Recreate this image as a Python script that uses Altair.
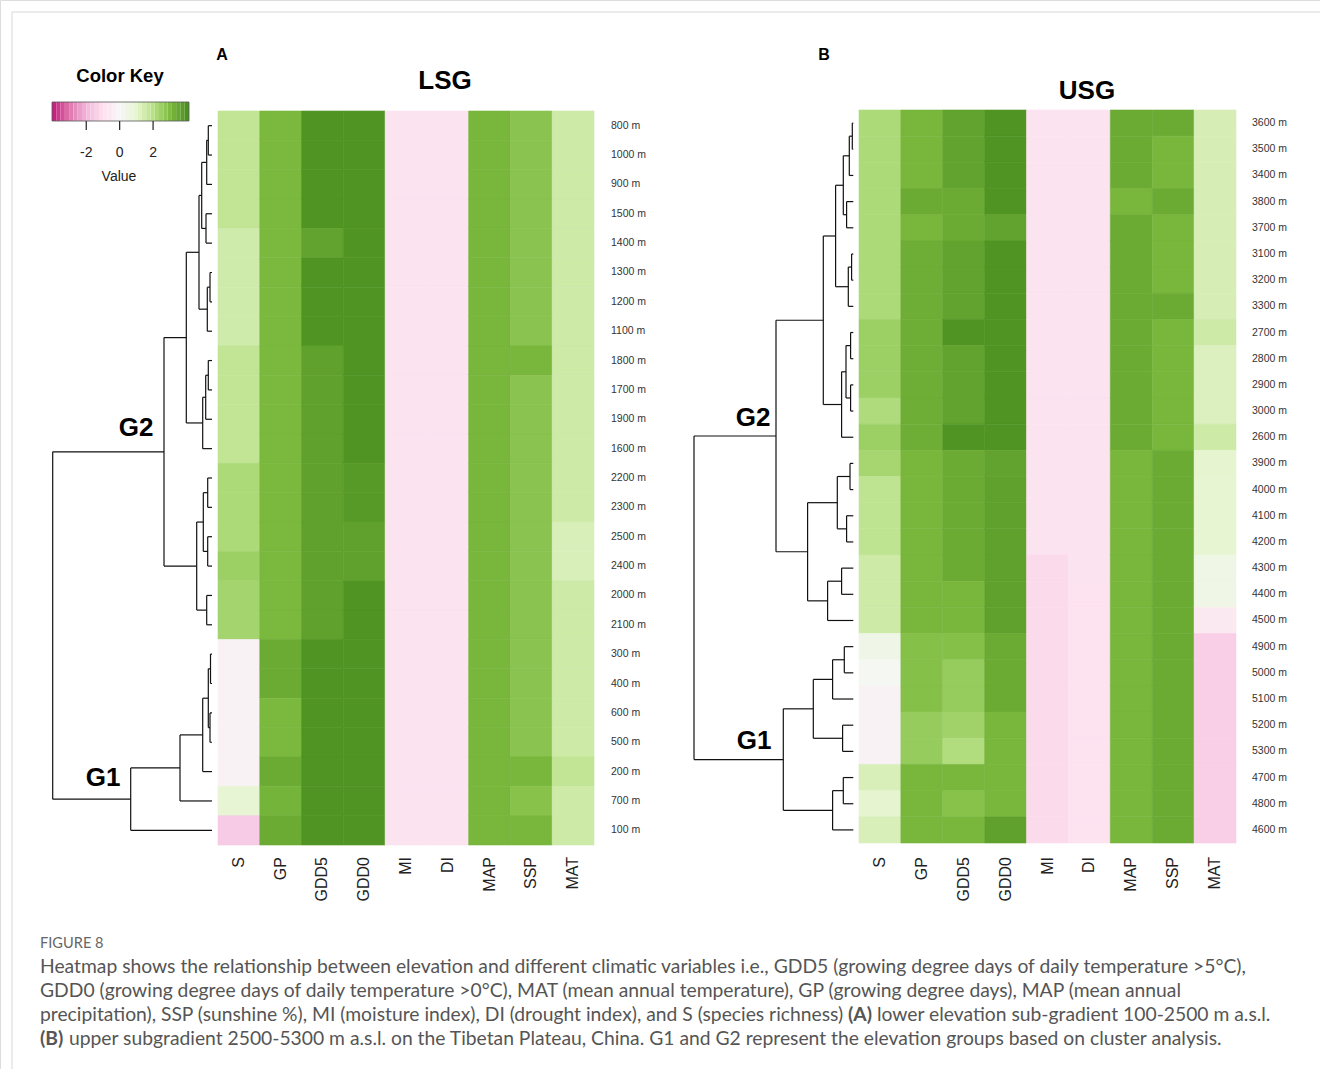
import altair as alt
import pandas as pd

# ---------------- data ----------------
VARS = ["S", "GP", "GDD5", "GDD0", "MI", "DI", "MAP", "SSP", "MAT"]

ROWS_A = ["800 m", "1000 m", "900 m", "1500 m", "1400 m", "1300 m", "1200 m", "1100 m",
          "1800 m", "1700 m", "1900 m", "1600 m", "2200 m", "2300 m", "2500 m", "2400 m",
          "2000 m", "2100 m", "300 m", "400 m", "600 m", "500 m", "200 m", "700 m", "100 m"]

S_A    = [1.8, 1.8, 1.8, 1.8, 1.5, 1.5, 1.5, 1.5, 1.8, 1.8, 1.8, 1.8, 2.2, 2.2, 2.2, 2.5, 2.35, 2.35, -0.2, -0.2, -0.2, -0.2, -0.2, 0.9, -1.5]
GP_A   = [3.1] * 18 + [3.4, 3.4, 3.1, 3.1, 3.4, 3.2, 3.4]
GDD5_A = [3.95, 3.95, 3.95, 3.95, 3.6, 3.95, 3.95, 3.95, 3.65, 3.65, 3.65, 3.65, 3.65, 3.65, 3.65, 3.65, 3.65, 3.65, 3.95, 3.95, 3.95, 3.95, 3.95, 3.95, 3.95]
GDD0_A = [3.95] * 12 + [3.8, 3.8, 3.65, 3.65] + [3.95] * 9
MI_A   = [-0.85] * 25
DI_A   = [-0.85] * 25
MAP_A  = [3.15] * 25
SSP_A  = [2.8] * 8 + [3.15] + [2.8] * 13 + [3.15, 2.85, 3.15]
MAT_A  = [1.55] * 14 + [1.3, 1.3] + [1.55] * 6 + [1.8, 1.55, 1.55]

ROWS_B = ["3600 m", "3500 m", "3400 m", "3800 m", "3700 m", "3100 m", "3200 m", "3300 m",
          "2700 m", "2800 m", "2900 m", "3000 m", "2600 m", "3900 m", "4000 m", "4100 m",
          "4200 m", "4300 m", "4400 m", "4500 m", "4900 m", "5000 m", "5100 m", "5200 m",
          "5300 m", "4700 m", "4800 m", "4600 m"]

S_B    = [2.2] * 8 + [2.5, 2.5, 2.5, 2.15, 2.5, 2.3, 1.85, 1.85, 1.85, 1.55, 1.55, 1.55, 0.4, 0.1, -0.2, -0.2, -0.2, 1.3, 1.0, 1.3]
GP_B   = [3.15, 3.15, 3.15, 3.4, 3.15] + [3.35] * 8 + [3.15] * 7 + [2.9, 2.9, 2.9, 2.6, 2.6, 3.15, 3.15, 3.15]
GDD5_B = [3.6, 3.6, 3.6, 3.4, 3.4, 3.6, 3.6, 3.6, 3.95, 3.6, 3.6, 3.6, 3.95, 3.4, 3.4, 3.4, 3.4, 3.4, 3.15, 3.15, 2.9, 2.6, 2.6, 2.4, 2.1, 3.15, 2.85, 3.15]
GDD0_B = [3.95, 3.95, 3.95, 3.95, 3.6] + [3.95] * 8 + [3.6] + [3.65] * 6 + [3.4, 3.4, 3.4, 3.15, 3.15, 3.15, 3.15, 3.65]
MI_B   = [-0.85] * 17 + [-1.15] * 11
DI_B   = [-0.85] * 18 + [-0.92] * 10
MAP_B  = [3.4, 3.4, 3.4, 3.15] + [3.4] * 9 + [3.15] * 15
SSP_B  = [3.4, 3.15, 3.15, 3.4, 3.15, 3.15, 3.15, 3.4, 3.15, 3.15, 3.15, 3.15, 3.15] + [3.4] * 15
MAT_B  = [1.35] * 8 + [1.55, 1.25, 1.25, 1.25, 1.55, 1.0, 0.95, 0.95, 0.95, 0.45, 0.45, -0.6] + [-1.4] * 8

# dendrogram merges: (node, left child, right child, merge height)
MERGES_A = [
    ("a1", "800 m", "1000 m", 3.7), ("a2", "a1", "900 m", 5.3),
    ("a3", "1500 m", "1400 m", 6.0), ("a4", "a2", "a3", 10.3),
    ("a5", "1300 m", "1200 m", 2.0), ("a6", "a5", "1100 m", 4.7),
    ("a7", "a4", "a6", 13.0),
    ("a8", "1800 m", "1700 m", 3.7), ("a9", "a8", "1900 m", 6.3), ("a10", "a9", "1600 m", 9.3),
    ("a11", "a7", "a10", 25.7),
    ("a12", "2200 m", "2300 m", 4.3), ("a13", "2500 m", "2400 m", 4.3), ("a14", "a12", "a13", 8.7),
    ("a15", "2000 m", "2100 m", 5.3), ("a16", "a14", "a15", 15.3),
    ("a17", "a11", "a16", 48.0),
    ("a18", "300 m", "400 m", 1.5), ("a19", "600 m", "500 m", 2.0), ("a20", "a18", "a19", 3.7),
    ("a21", "a20", "200 m", 9.3), ("a22", "a21", "700 m", 32.0), ("a23", "a22", "100 m", 81.3),
    ("a24", "a17", "a23", 159.3),
]
MERGES_B = [
    ("b1", "3600 m", "3500 m", 1.0), ("b2", "b1", "3400 m", 4.0),
    ("b3", "3800 m", "3700 m", 6.7), ("b4", "b2", "b3", 10.0),
    ("b5", "3100 m", "3200 m", 1.7), ("b6", "b5", "3300 m", 5.0), ("b7", "b4", "b6", 17.7),
    ("b8", "2700 m", "2800 m", 2.7), ("b9", "2900 m", "3000 m", 2.7), ("b10", "b8", "b9", 7.3),
    ("b11", "b10", "2600 m", 11.7), ("b12", "b7", "b11", 30.0),
    ("b13", "3900 m", "4000 m", 3.3), ("b14", "4100 m", "4200 m", 6.7), ("b15", "b13", "b14", 16.0),
    ("b16", "4300 m", "4400 m", 11.7), ("b17", "b16", "4500 m", 25.7), ("b18", "b15", "b17", 45.7),
    ("b19", "b12", "b18", 77.3),
    ("b20", "4900 m", "5000 m", 9.0), ("b21", "b20", "5100 m", 20.7),
    ("b22", "5200 m", "5300 m", 10.7), ("b23", "b21", "b22", 40.0),
    ("b24", "4700 m", "4800 m", 10.0), ("b25", "b24", "4600 m", 20.7), ("b26", "b23", "b25", 70.0),
    ("b27", "b19", "b26", 159.3),
]

KEY_TICKS = [-2, 0, 2]
KEY_MIN, KEY_MAX = -4.05, 4.15
PIYG = ["#c51b7d", "#de77ae", "#f1b6da", "#fde0ef", "#f7f7f7", "#e6f5d0", "#b8e186", "#7fbc41", "#4d9221"]
PIYG_STOPS = [-4, -3, -2, -1, 0, 1, 2, 3, 4]

CAPTION_LINES = [
    "Heatmap shows the relationship between elevation and different climatic variables i.e., GDD5 (growing degree days of daily temperature >5°C),",
    "GDD0 (growing degree days of daily temperature >0°C), MAT (mean annual temperature), GP (growing degree days), MAP (mean annual",
]
CAP3_A = "precipitation), SSP (sunshine %), MI (moisture index), DI (drought index), and S (species richness)"
CAP3_B = "(A)"
CAP3_C = "lower elevation sub-gradient 100-2500 m a.s.l."
CAP4_A = "(B)"
CAP4_B = "upper subgradient 2500-5300 m a.s.l. on the Tibetan Plateau, China. G1 and G2 represent the elevation groups based on cluster analysis."

# ---------------- helpers ----------------
FONT = "Liberation Sans"
CAPFONT = "Lato"
CAPSIZE = 19.3
COLOR_SCALE = alt.Scale(domain=PIYG_STOPS, range=PIYG, clamp=True, interpolate="rgb")


def long_table(rows, cols):
    recs = []
    for v, vals in zip(VARS, cols):
        for r, val in zip(rows, vals):
            recs.append({"elev": r, "var": v, "value": val})
    return pd.DataFrame(recs)


def dendro_segments(order, merges):
    pos = {lab: i for i, lab in enumerate(order)}
    hgt = {lab: 0.0 for lab in order}
    segs = []
    for nid, a, b, h in merges:
        pos[nid] = (pos[a] + pos[b]) / 2.0
        hgt[nid] = h
        segs.append({"x1": h, "x2": h, "y1": pos[a], "y2": pos[b]})
        for c in (a, b):
            segs.append({"x1": hgt[c], "x2": h, "y1": pos[c], "y2": pos[c]})
    return pd.DataFrame(segs)


def panel(rows, cols, merges, heat_x, heat_y, dendro_x, label_x, collabel_y):
    df = long_table(rows, cols)
    xs = alt.Scale(domain=VARS, range=list(heat_x), paddingInner=0, paddingOuter=0)
    ys = alt.Scale(domain=rows, range=list(heat_y), paddingInner=0, paddingOuter=0)
    heat = alt.Chart(df).mark_rect(strokeWidth=0.6).encode(
        x=alt.X("var:N", scale=xs, axis=None),
        y=alt.Y("elev:N", scale=ys, axis=None),
        color=alt.Color("value:Q", scale=COLOR_SCALE, legend=None),
        stroke=alt.Stroke("value:Q", scale=COLOR_SCALE, legend=None),
    )
    rlab = alt.Chart(pd.DataFrame({"elev": rows})).mark_text(
        align="left", baseline="middle", fontSize=10.5, font=FONT, color="#333"
    ).encode(x=alt.value(label_x), y=alt.Y("elev:N", scale=ys, axis=None), text="elev:N")
    clab = alt.Chart(pd.DataFrame({"var": VARS})).mark_text(
        angle=270, align="right", baseline="middle", fontSize=16, font=FONT, color="#222"
    ).encode(x=alt.X("var:N", scale=xs, axis=None), y=alt.value(collabel_y), text="var:N")
    seg = dendro_segments(rows, merges)
    dend = alt.Chart(seg).mark_rule(color="#111", strokeWidth=1.2).encode(
        x=alt.X("x1:Q", scale=alt.Scale(domain=[0, 160], range=list(dendro_x), zero=False, nice=False), axis=None),
        x2="x2:Q",
        y=alt.Y("y1:Q", scale=alt.Scale(domain=[-0.5, len(rows) - 0.5], range=list(heat_y), zero=False, nice=False), axis=None),
        y2="y2:Q",
    )
    return [heat, rlab, clab, dend]


def label(text, x, y, size, weight="normal", color="#000", align="center", font=FONT):
    return alt.Chart(pd.DataFrame({"t": [text]})).mark_text(
        x=x, y=y, fontSize=size, fontWeight=weight, color=color, align=align,
        baseline="alphabetic", font=font
    ).encode(text="t:N")


layers = []
layers += panel(ROWS_A, [S_A, GP_A, GDD5_A, GDD0_A, MI_A, DI_A, MAP_A, SSP_A, MAT_A], MERGES_A,
                (218, 594), (111, 845), (212, 52), 611, 857)
layers += panel(ROWS_B, [S_B, GP_B, GDD5_B, GDD0_B, MI_B, DI_B, MAP_B, SSP_B, MAT_B], MERGES_B,
                (859, 1236), (110, 843), (853.3, 693.3), 1252, 857)

# colour key
nblk = 32
step = (KEY_MAX - KEY_MIN) / nblk
keydf = pd.DataFrame({
    "lo": [KEY_MIN + i * step for i in range(nblk)],
    "hi": [KEY_MIN + (i + 1) * step for i in range(nblk)],
    "mid": [KEY_MIN + (i + 0.5) * step for i in range(nblk)],
})
kx = alt.Scale(domain=[KEY_MIN, KEY_MAX], range=[52, 189], zero=False, nice=False)
key = alt.Chart(keydf).mark_rect().encode(
    x=alt.X("lo:Q", scale=kx, axis=None), x2="hi:Q",
    y=alt.value(102), y2=alt.value(121),
    color=alt.Color("mid:Q", scale=COLOR_SCALE, legend=None),
)
keyframe = alt.Chart(pd.DataFrame({"a": [KEY_MIN], "b": [KEY_MAX]})).mark_rect(
    fill=None, stroke="#555", strokeWidth=0.8
).encode(x=alt.X("a:Q", scale=kx, axis=None), x2="b:Q", y=alt.value(102), y2=alt.value(121))
kt = pd.DataFrame({"v": KEY_TICKS, "t": [str(v) for v in KEY_TICKS]})
keyticks = alt.Chart(kt).mark_rule(color="#222", strokeWidth=1.2).encode(
    x=alt.X("v:Q", scale=kx, axis=None), y=alt.value(121), y2=alt.value(130))
keylabels = alt.Chart(kt).mark_text(fontSize=14, font=FONT, color="#222", baseline="alphabetic").encode(
    x=alt.X("v:Q", scale=kx, axis=None), y=alt.value(157), text="t:N")
layers += [key, keyframe, keyticks, keylabels]

# annotations
layers += [
    label("Color Key", 120, 82, 18.5, "bold"),
    label("Value", 119, 181, 14, color="#222"),
    label("A", 222, 60, 16, "bold"),
    label("B", 824, 60, 16, "bold"),
    label("LSG", 445, 89, 26, "bold"),
    label("USG", 1087, 99, 26, "bold"),
    label("G2", 136, 436, 26, "bold"),
    label("G1", 103, 786, 26, "bold"),
    label("G2", 753, 426, 26, "bold"),
    label("G1", 754, 749, 26, "bold"),
    label("FIGURE 8", 40, 948, 14.6, color="#666", align="left", font=CAPFONT),
]
cap_y = [973, 997, 1021, 1045]
for i, line in enumerate(CAPTION_LINES):
    layers.append(label(line, 40, cap_y[i], CAPSIZE, color="#555", align="left", font=CAPFONT))
layers += [
    label(CAP3_A, 40, cap_y[2], CAPSIZE, color="#555", align="left", font=CAPFONT),
    label(CAP3_B, 848, cap_y[2], CAPSIZE, "bold", color="#555", align="left", font=CAPFONT),
    label(CAP3_C, 877, cap_y[2], CAPSIZE, color="#555", align="left", font=CAPFONT),
    label(CAP4_A, 40, cap_y[3], CAPSIZE, "bold", color="#555", align="left", font=CAPFONT),
    label(CAP4_B, 69, cap_y[3], CAPSIZE, color="#555", align="left", font=CAPFONT),
]

# thin frame lines of the figure card
frame = pd.DataFrame({"a": [0]})
layers += [
    alt.Chart(frame).mark_rule(color="#d8d8d8", strokeWidth=1).encode(
        x=alt.value(12), x2=alt.value(1320), y=alt.value(12), y2=alt.value(12)),
    alt.Chart(frame).mark_rule(color="#d8d8d8", strokeWidth=1).encode(
        x=alt.value(12), x2=alt.value(12), y=alt.value(12), y2=alt.value(1069)),
]

chart = alt.layer(*layers).resolve_scale(
    x="independent", y="independent"
).properties(
    width=1320, height=1069, padding=0, autosize=alt.AutoSizeParams(type="none")
).configure_view(stroke=None).configure(background="white")

chart.save("out.html", embed_options={"renderer": "svg", "actions": False})
